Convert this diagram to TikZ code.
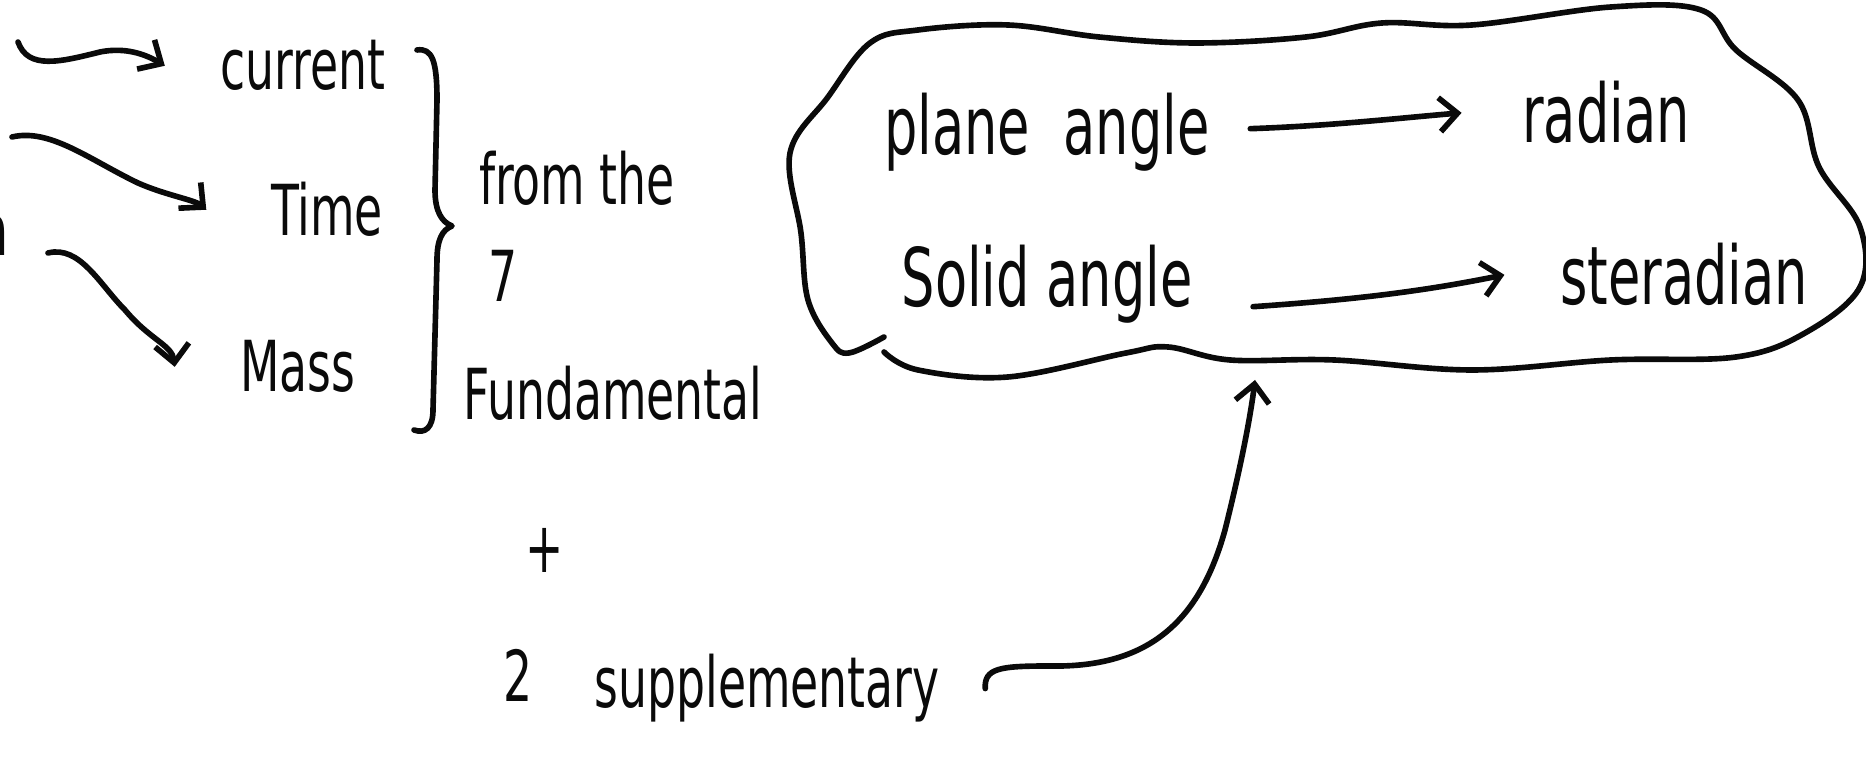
\documentclass[tikz,border=0pt]{standalone}
\usepackage{fontspec}
\usepackage{xcolor}
\usepackage{tikz}
\usetikzlibrary{arrows.meta}
\newfontfamily\hand[FakeStretch=0.65]{DejaVu Sans}
\definecolor{Ink}{HTML}{0A0A0A}

\begin{document}
\begin{tikzpicture}[x=0.01cm,y=-0.01cm,lbl/.style={font=\hand\fontsize{20}{24}\selectfont,anchor=base,inner sep=0pt,text=Ink},big/.style={lbl,font=\hand\fontsize{23}{27}\selectfont},arr/.style={-{Straight Barb[length=1.8mm,width=3.4mm]},draw=Ink,line width=1.6pt,line cap=round},ink/.style={draw=Ink,line width=1.6pt,line cap=round,line join=round}]
\useasboundingbox (0,0) rectangle (1866,771);
\clip (0,0) rectangle (1866,771);
\node[lbl] (cur) at (303,90) {current};
\node[lbl] (time) at (327,236) {Time};
\node[lbl] (mass) at (298,392) {Mass};
\node[lbl] (cut) at (-6,256) {n};
\node[lbl] (fromthe) at (577,205) {from the};
\node[lbl] (seven) at (503,302) {7};
\node[lbl] (fund) at (613,420) {Fundamental};
\node[lbl,anchor=center] (plus) at (545,550) {+};
\node[lbl] (two) at (518,702) {2};
\node[lbl] (supp) at (767,708) {supplementary};
\node[big] (pa) at (1047,155) {plane~~angle};
\node[big] (rad) at (1606,143) {radian};
\node[big] (sa) at (1047,307) {Solid angle};
\node[big] (ster) at (1684,305) {steradian};
\coordinate (s1) at (18,42);
\coordinate (s2) at (12,137);
\coordinate (s3) at (48,253);
\coordinate (cloudtip) at (1255,380);
\draw[arr] (s1) .. controls (28,70) and (60,62) .. (100,52) .. controls (125,47) and (145,54) .. ([xshift=-0.55cm]cur.west);
\draw[arr] (s2) .. controls (50,128) and (90,160) .. (138,183) .. controls (165,195) and (195,200) .. ([xshift=-0.64cm]time.west);
\draw[arr] (s3) .. controls (80,245) and (100,285) .. (125,310) .. controls (150,340) and (172,345) .. ([xshift=-0.65cm]mass.west);
\draw[ink] (417,50) .. controls (432,48) and (437,60) .. (437,100) -- (435,190) .. controls (435,212) and (442,222) .. (452,226) .. controls (442,230) and (437,240) .. (437,260) -- (433,410) .. controls (433,428) and (425,434) .. (414,430);
\draw[ink] plot[smooth,tension=0.6] coordinates {(884,352) (918,370) (1008,377) (1126,353) (1168,347) (1230,360) (1334,360) (1472,370) (1611,360) (1736,357) (1805,333) (1860,287) (1860,227) (1819,167) (1798,100) (1736,50) (1701,10) (1611,7) (1472,25) (1382,23) (1306,37) (1196,43) (1099,37) (1008,25) (918,30) (870,43) (828,97) (790,153) (801,233) (808,300) (832,343) (849,353) (884,337)};
\draw[arr] ([xshift=0.4cm,yshift=0.04cm]pa.east) .. controls (1330,126) and (1400,118) .. ([xshift=-0.6cm]rad.west);
\draw[arr] ([xshift=0.6cm,yshift=-0.22cm]sa.east) .. controls (1350,300) and (1420,292) .. ([xshift=-0.55cm]ster.west);
\draw[arr] ([xshift=0.45cm]supp.east) .. controls (984,668) and (1000,666) .. (1050,666) .. controls (1150,668) and (1200,620) .. (1225,530) .. controls (1240,470) and (1250,420) .. (cloudtip);
\end{tikzpicture}
\end{document}
